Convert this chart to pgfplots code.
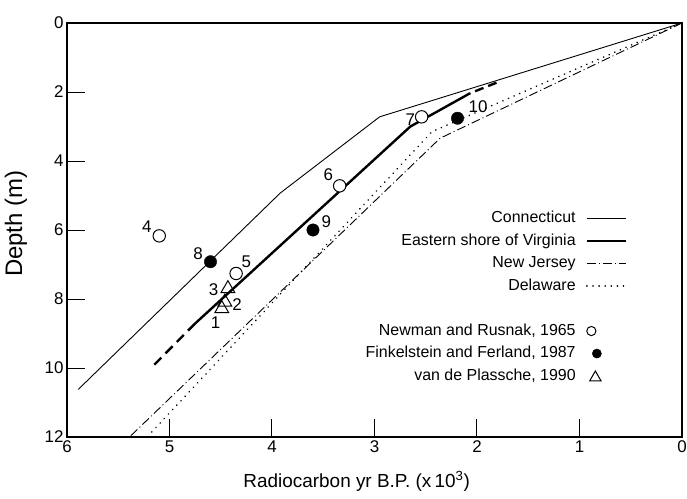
\documentclass[border=0pt]{standalone}
\usepackage{fontspec}
\setmainfont{Liberation Sans}
\usepackage{pgfplots}
\pgfplotsset{compat=1.18}
\pgfplotsset{
  openleg/.style={legend image code/.code={\path[draw=none,fill=none] (0bp,0bp) -- (39bp,0bp); \draw[##1, mark size=4.6bp] plot coordinates {(4.5bp,0bp)};}},
  fillleg/.style={legend image code/.code={\path[draw=none,fill=none] (0bp,0bp) -- (39bp,0bp); \draw[##1, mark size=4.6bp] plot coordinates {(10bp,0bp)};}},
  triLeg/.style={legend image code/.code={\path[draw=none,fill=none] (0bp,0bp) -- (39bp,0bp); \draw[##1, mark size=6.5bp] plot coordinates {(8.5bp,-1.5bp)};}},
}

\begin{document}
\begin{tikzpicture}
\useasboundingbox (-67bp,-62bp) rectangle (620bp,437bp);
\begin{axis}[
  width=615bp, height=414bp, scale only axis,
  x dir=reverse, y dir=reverse,
  xmin=0, xmax=6, ymin=0, ymax=12,
  xtick={0,1,...,6}, ytick={0,2,...,12},
  tick align=inside, tick pos=left,
  major tick length=18bp,
  axis line style={line width=1.1bp},
  every tick/.style={black, line width=1bp},
  tick label style={font=\fontsize{17}{20}\selectfont},
  /pgf/number format/assume math mode=true,
  xticklabel style={yshift=0bp},
  xlabel={Radiocarbon yr B.P. (x\,10\textsuperscript{3})},
  ylabel={Depth (m)},
  xlabel style={at={(axis description cs:0.471,-0.121)}, anchor=base, font=\fontsize{19}{22}\selectfont},
  ylabel style={at={(axis description cs:-0.083,0.515)}, anchor=center, font=\fontsize{24}{28}\selectfont},
  legend plot pos=right,
  legend cell align=right,
  legend image code/.code={\draw[#1] (0bp,0bp) -- (39bp,0bp);},
  legend style={draw=none, fill=none, inner sep=0pt,
    at={(axis cs:0.534,5.43)}, anchor=north east,
    font=\fontsize{16}{19}\selectfont,
    row sep=6.5bp, column sep=10bp,
    nodes={inner sep=0pt, text height=12bp, text depth=4bp}},
]
% Connecticut
\addplot[line width=0.9bp] coordinates {(0,0) (2.95,2.72) (3.92,4.93) (5.89,10.62)};
\addlegendentry{Connecticut}
% Eastern shore of Virginia
\addplot[line width=2.4bp, dash pattern=on 9bp off 5bp, forget plot] coordinates {(1.81,1.73) (2.07,2.04)};
\addplot[line width=2.4bp] coordinates {(2.07,2.04) (2.65,3.0) (4.75,8.71)};
\addlegendentry{Eastern shore of Virginia}
\addplot[line width=2.4bp, dash pattern=on 10bp off 6bp, forget plot] coordinates {(4.75,8.71) (5.16,9.94)};
% New Jersey
\addplot[line width=0.9bp, dash pattern=on 9bp off 3bp on 1bp off 3bp] coordinates {(0,0) (2.36,3.34) (5.39,12)};
\addlegendentry{New Jersey}
% Delaware
\addplot[line width=1.7bp, line cap=round, dash pattern=on 0.1bp off 6bp] coordinates {(0,0) (2.44,3.15) (5.20,11.94)};
\addlegendentry{Delaware}

\addlegendimage{empty legend}
\addlegendentry{}

% data points
\addplot[only marks, mark=*, mark size=6.2bp, mark options={fill=white, draw=black, line width=1bp}, openleg]
  coordinates {(5.10,6.17) (3.34,4.72) (2.54,2.72) (4.35,7.26)};
\addlegendentry{Newman and Rusnak, 1965}
\addplot[only marks, mark=*, mark size=6.2bp, mark options={fill=black, draw=black}, fillleg]
  coordinates {(4.60,6.92) (3.60,6.0) (2.19,2.76)};
\addlegendentry{Finkelstein and Ferland, 1987}
\addplot[only marks, mark=triangle, mark size=8bp, mark options={draw=black, line width=1bp}, triLeg]
  coordinates {(4.43,7.70) (4.46,8.09) (4.49,8.28)};
\addlegendentry{van de Plassche, 1990}

% point numbers
\begin{scope}[font=\fontsize{17}{20}\selectfont]
\node at (axis cs:5.22,5.90) {4};
\node at (axis cs:3.45,4.41) {6};
\node at (axis cs:3.47,5.76) {9};
\node at (axis cs:4.72,6.68) {8};
\node at (axis cs:4.25,6.92) {5};
\node at (axis cs:4.57,7.72) {3};
\node at (axis cs:4.34,8.17) {2};
\node at (axis cs:4.55,8.69) {1};
\node at (axis cs:2.65,2.79) {7};
\node at (axis cs:1.99,2.43) {10};
\end{scope}
\end{axis}
\end{tikzpicture}
\end{document}
